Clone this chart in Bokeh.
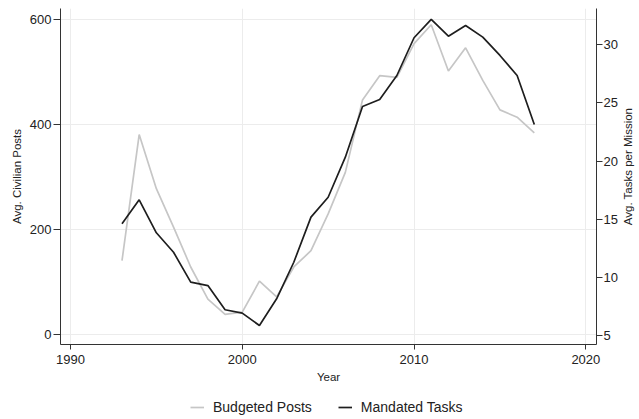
import math
from bokeh.plotting import figure
from bokeh.layouts import column, row
from bokeh.models import Range1d, LinearAxis, Legend, LegendItem, FixedTicker, Label
from bokeh.embed import file_html
from bokeh.resources import INLINE

years = list(range(1993, 2018))
budgeted_posts = [141, 381, 278, 205, 129, 68, 39, 43, 102, 72, 129, 160, 230, 309,
                  447, 493, 490, 554, 590, 502, 546, 484, 428, 414, 384]
mandated_tasks = [14.63, 16.69, 13.86, 12.19, 9.62, 9.33, 7.25, 6.96, 5.90, 8.19, 11.33,
                  15.20, 16.91, 20.35, 24.70, 25.30, 27.36, 30.60, 32.17, 30.73, 31.65,
                  30.65, 29.08, 27.36, 23.15]
x_ticks = [1990, 2000, 2010, 2020]
left_ticks = [0, 200, 400, 600]
right_ticks = [5, 10, 15, 20, 25, 30]

FONT = "Liberation Sans"
AXIS_COLOR = "#333333"
TEXT_COLOR = "#222222"
GRAY = "#c6c6c6"
DARK = "#1e1e1e"

p = figure(width=620, height=388, output_backend="svg", toolbar_location=None,
           x_range=Range1d(1989.42, 2020.62), y_range=Range1d(-18.5, 620.9),
           min_border_left=60, min_border_right=23, min_border_top=8, min_border_bottom=44)
p.outline_line_color = None
p.extra_y_ranges = {"tasks": Range1d(4.27, 33.11)}

gl = p.line(years, budgeted_posts, line_color=GRAY, line_width=1.7)
bl = p.line(years, mandated_tasks, line_color=DARK, line_width=1.7, y_range_name="tasks")

def style_axis(ax, tick_out, standoff, label_standoff):
    ax.axis_line_color = AXIS_COLOR
    ax.major_tick_line_color = AXIS_COLOR
    ax.minor_tick_line_color = None
    ax.major_tick_in = 0
    ax.major_tick_out = tick_out
    ax.major_label_standoff = standoff
    ax.major_label_text_font = FONT
    ax.major_label_text_font_size = "13px"
    ax.major_label_text_color = TEXT_COLOR
    ax.axis_label_text_font = FONT
    ax.axis_label_text_font_size = "11.5px"
    ax.axis_label_text_font_style = "normal"
    ax.axis_label_text_color = TEXT_COLOR
    ax.axis_label_standoff = label_standoff

xa = p.xaxis[0]
xa.ticker = FixedTicker(ticks=x_ticks)
xa.axis_label = "Year"
style_axis(xa, 5, 5, 4)

ya = p.yaxis[0]
ya.ticker = FixedTicker(ticks=left_ticks)
ya.axis_label = "Avg. Civilian Posts"
style_axis(ya, 7, 2, 4)

ra = LinearAxis(y_range_name="tasks", ticker=FixedTicker(ticks=right_ticks))
style_axis(ra, 6, 1, 0)
p.add_layout(ra, "right")

p.xgrid.ticker = FixedTicker(ticks=x_ticks)
p.ygrid.ticker = FixedTicker(ticks=left_ticks)
for g in (p.xgrid[0], p.ygrid[0]):
    g.grid_line_color = "#ececec"
    g.grid_line_width = 1

def bare_figure(w, h, xr, yr):
    f = figure(width=w, height=h, output_backend="svg", toolbar_location=None,
               x_range=Range1d(*xr), y_range=Range1d(*yr),
               x_axis_location=None, y_axis_location=None,
               min_border_left=0, min_border_right=0, min_border_top=0, min_border_bottom=0)
    f.outline_line_color = None
    f.xgrid.visible = False
    f.ygrid.visible = False
    return f

# right-hand axis title, reading bottom to top
side = bare_figure(18, 388, (0, 18), (0, 336))
side.add_layout(Label(x=7.5, y=178, text="Avg. Tasks per Mission", angle=math.pi / 2,
                      text_align="center", text_baseline="middle",
                      text_font=FONT, text_font_size="11.5px", text_color=TEXT_COLOR))

# legend strip below the chart
lg = bare_figure(638, 30, (0, 1), (0, 1))
lgl = lg.line(years, budgeted_posts, line_color=GRAY, line_width=1.7)
lbl = lg.line(years, mandated_tasks, line_color=DARK, line_width=1.7)
legend = Legend(items=[LegendItem(label="Budgeted Posts", renderers=[lgl]),
                       LegendItem(label="Mandated Tasks", renderers=[lbl])],
                orientation="horizontal", location=(190, 3),
                glyph_width=14, glyph_height=14, label_height=14, label_standoff=9,
                spacing=26, padding=0, margin=0,
                label_text_font=FONT, label_text_font_size="14px", label_text_color=TEXT_COLOR,
                border_line_color=None, background_fill_alpha=0)
lg.add_layout(legend, "center")

layout = column(row(p, side, spacing=0), lg, spacing=0)
open("out.html", "w").write(file_html(layout, INLINE))
